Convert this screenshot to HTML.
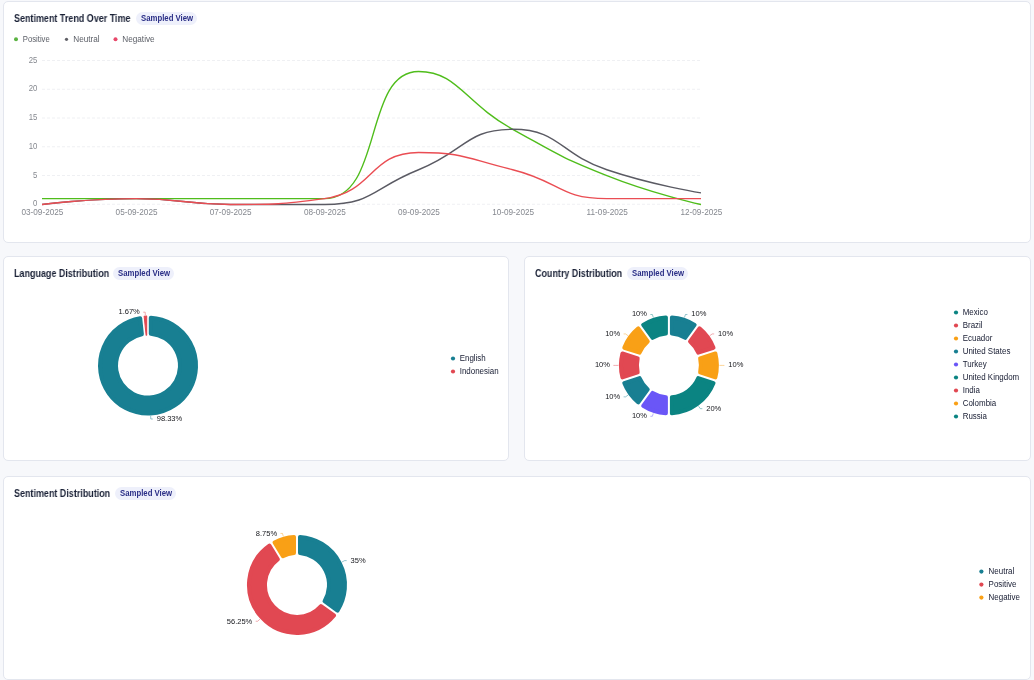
<!DOCTYPE html>
<html><head><meta charset="utf-8"><title>Dashboard</title>
<style>
html,body{margin:0;padding:0}
body{width:1034px;height:680px;overflow:hidden;background:#f7f8fb;position:relative;font-family:"Liberation Sans",sans-serif}
.card{position:absolute;background:#fff;border:1px solid #e3e6ee;border-radius:5px;box-sizing:border-box}
.ttl,.bdg{will-change:transform}
.ttl{position:absolute;font-weight:bold;font-size:10px;line-height:12px;color:#1a2136;white-space:nowrap;transform:scaleX(.897);transform-origin:0 50%}
.bdg{position:absolute;height:13px;border-radius:7px;background:#eef0fb;color:#2a2e86;white-space:nowrap;box-sizing:border-box;overflow:hidden}
.bdg span{display:block;font-weight:bold;font-size:8.7px;line-height:13.6px;transform:scaleX(.895);transform-origin:0 50%;white-space:nowrap}
svg{position:absolute;left:0;top:0;will-change:transform}
text{font-family:"Liberation Sans",sans-serif}
</style></head><body>
<div class="card" style="left:3px;top:1px;width:1028px;height:242px"></div>
<div class="card" style="left:3px;top:256px;width:506px;height:205px"></div>
<div class="card" style="left:524px;top:256px;width:507px;height:205px"></div>
<div class="card" style="left:3px;top:476px;width:1028px;height:204px"></div>
<div class="ttl" style="left:14px;top:12.6px">Sentiment Trend Over Time</div><div class="bdg" style="left:136px;top:12px;width:61px;padding-left:5px"><span>Sampled View</span></div>
<div class="ttl" style="left:14px;top:267.6px">Language Distribution</div><div class="bdg" style="left:113px;top:267px;width:61px;padding-left:5px"><span>Sampled View</span></div>
<div class="ttl" style="left:535px;top:267.6px">Country Distribution</div><div class="bdg" style="left:626.5px;top:267px;width:61px;padding-left:5px"><span>Sampled View</span></div>
<div class="ttl" style="left:14px;top:487.6px">Sentiment Distribution</div><div class="bdg" style="left:115px;top:487px;width:61px;padding-left:5px"><span>Sampled View</span></div>
<svg width="1034" height="680" viewBox="0 0 1034 680">
<circle cx="16" cy="39.3" r="2" fill="#5bb342"/><text transform="translate(22.80 42.00) scale(0.94 1)" text-anchor="start" font-size="8.2" fill="#5d6068">Positive</text>
<circle cx="66.5" cy="39.3" r="1.6" fill="#5f5f66"/><text transform="translate(73.30 42.00) scale(1 1)" text-anchor="start" font-size="8.2" fill="#5d6068">Neutral</text>
<circle cx="115.5" cy="39.3" r="2" fill="#e8486a"/><text transform="translate(122.30 42.00) scale(1 1)" text-anchor="start" font-size="8.2" fill="#5d6068">Negative</text>
<line x1="42" x2="701" y1="204.25" y2="204.25" stroke="#eff0f3" stroke-width="1" stroke-dasharray="3 2"/>
<text transform="translate(37.40 206.25) scale(0.95 1)" text-anchor="end" font-size="8.2" fill="#85888f">0</text>
<line x1="42" x2="701" y1="175.50" y2="175.50" stroke="#eff0f3" stroke-width="1" stroke-dasharray="3 2"/>
<text transform="translate(37.40 177.50) scale(0.95 1)" text-anchor="end" font-size="8.2" fill="#85888f">5</text>
<line x1="42" x2="701" y1="146.75" y2="146.75" stroke="#eff0f3" stroke-width="1" stroke-dasharray="3 2"/>
<text transform="translate(37.40 148.75) scale(0.95 1)" text-anchor="end" font-size="8.2" fill="#85888f">10</text>
<line x1="42" x2="701" y1="118.00" y2="118.00" stroke="#eff0f3" stroke-width="1" stroke-dasharray="3 2"/>
<text transform="translate(37.40 120.00) scale(0.95 1)" text-anchor="end" font-size="8.2" fill="#85888f">15</text>
<line x1="42" x2="701" y1="89.25" y2="89.25" stroke="#eff0f3" stroke-width="1" stroke-dasharray="3 2"/>
<text transform="translate(37.40 91.25) scale(0.95 1)" text-anchor="end" font-size="8.2" fill="#85888f">20</text>
<line x1="42" x2="701" y1="60.50" y2="60.50" stroke="#eff0f3" stroke-width="1" stroke-dasharray="3 2"/>
<text transform="translate(37.40 62.50) scale(0.95 1)" text-anchor="end" font-size="8.2" fill="#85888f">25</text>
<text transform="translate(42.40 215.20) scale(1 1)" text-anchor="middle" font-size="8.2" fill="#85888f">03-09-2025</text>
<text transform="translate(136.54 215.20) scale(1 1)" text-anchor="middle" font-size="8.2" fill="#85888f">05-09-2025</text>
<text transform="translate(230.69 215.20) scale(1 1)" text-anchor="middle" font-size="8.2" fill="#85888f">07-09-2025</text>
<text transform="translate(324.83 215.20) scale(1 1)" text-anchor="middle" font-size="8.2" fill="#85888f">08-09-2025</text>
<text transform="translate(418.97 215.20) scale(1 1)" text-anchor="middle" font-size="8.2" fill="#85888f">09-09-2025</text>
<text transform="translate(513.11 215.20) scale(1 1)" text-anchor="middle" font-size="8.2" fill="#85888f">10-09-2025</text>
<text transform="translate(607.26 215.20) scale(1 1)" text-anchor="middle" font-size="8.2" fill="#85888f">11-09-2025</text>
<text transform="translate(701.40 215.20) scale(1 1)" text-anchor="middle" font-size="8.2" fill="#85888f">12-09-2025</text>
<path d="M42.00 198.67 C42.00 198.67 89.07 198.67 136.14 198.67 C183.21 198.67 183.21 198.67 230.29 198.67 C277.36 198.67 289.31 198.67 324.43 198.67 C383.45 198.67 363.14 71.51 418.57 71.51 C457.28 71.51 464.42 102.63 512.71 129.31 C558.57 154.65 558.30 156.17 606.86 175.55 C652.45 193.74 701.00 204.45 701.00 204.45" fill="none" stroke="#4fbd1b" stroke-width="1.4" stroke-linejoin="round"/>
<path d="M42.00 204.45 C42.00 204.45 89.07 198.67 136.14 198.67 C183.21 198.67 183.17 204.45 230.29 204.45 C277.31 204.45 278.85 204.45 324.43 204.45 C373.00 204.45 372.00 188.36 418.57 169.77 C466.14 150.79 465.64 129.31 512.71 129.31 C559.79 129.31 558.48 153.43 606.86 169.77 C652.62 185.22 701.00 192.89 701.00 192.89" fill="none" stroke="#5a5a63" stroke-width="1.4" stroke-linejoin="round"/>
<path d="M42.00 204.45 C42.00 204.45 89.07 198.67 136.14 198.67 C183.21 198.67 183.21 204.45 230.29 204.45 C277.36 204.45 279.85 204.45 324.43 198.67 C374.00 192.24 369.35 152.43 418.57 152.43 C463.49 152.43 466.31 158.37 512.71 169.77 C560.45 181.49 558.73 198.67 606.86 198.67 C652.87 198.67 701.00 198.67 701.00 198.67" fill="none" stroke="#ea4d53" stroke-width="1.4" stroke-linejoin="round"/>
<path d="M150.80 317.68 A48.00 48.00 0 1 1 140.20 318.24 L141.88 334.19 A32.00 32.00 0 1 0 150.80 333.72 Z" fill="#187f92" stroke="#187f92" stroke-width="4.00" stroke-linejoin="round"/>
<path d="M144.16 316.29 A49.46 49.46 0 0 1 146.66 316.16 L146.66 335.09 A30.54 30.54 0 0 0 146.14 335.12 Z" fill="#e14852" stroke="#e14852" stroke-width="1.08" stroke-linejoin="round"/>
<polyline points="150.65,416.03 150.81,419.03 152.81,419.03" fill="none" stroke="#187f92" stroke-width="1" opacity=".45"/>
<text transform="translate(156.71 421.30) scale(0.93 1)" text-anchor="start" font-size="8.1" fill="#16171c">98.33%</text>
<polyline points="145.35,315.17 145.19,312.17 143.19,312.17" fill="none" stroke="#e14852" stroke-width="1" opacity=".45"/>
<text transform="translate(139.79 314.45) scale(0.93 1)" text-anchor="end" font-size="8.1" fill="#16171c">1.67%</text>
<path d="M671.90 317.49 A48.00 48.00 0 0 1 694.63 324.88 L685.20 337.86 A32.00 32.00 0 0 0 671.90 333.54 Z" fill="#187f92" stroke="#187f92" stroke-width="4.00" stroke-linejoin="round"/>
<path d="M699.49 328.41 A48.00 48.00 0 0 1 713.53 347.74 L698.27 352.70 A32.00 32.00 0 0 0 690.05 341.39 Z" fill="#e14852" stroke="#e14852" stroke-width="4.00" stroke-linejoin="round"/>
<path d="M715.39 353.45 A48.00 48.00 0 0 1 715.39 377.35 L700.13 372.39 A32.00 32.00 0 0 0 700.13 358.41 Z" fill="#f9a016" stroke="#f9a016" stroke-width="4.00" stroke-linejoin="round"/>
<path d="M713.53 383.06 A48.00 48.00 0 0 1 671.90 413.31 L671.90 397.26 A32.00 32.00 0 0 0 698.27 378.10 Z" fill="#0b8482" stroke="#0b8482" stroke-width="4.00" stroke-linejoin="round"/>
<path d="M665.90 413.31 A48.00 48.00 0 0 1 643.17 405.92 L652.60 392.94 A32.00 32.00 0 0 0 665.90 397.26 Z" fill="#6a56f7" stroke="#6a56f7" stroke-width="4.00" stroke-linejoin="round"/>
<path d="M638.31 402.39 A48.00 48.00 0 0 1 624.27 383.06 L639.53 378.10 A32.00 32.00 0 0 0 647.75 389.41 Z" fill="#187f92" stroke="#187f92" stroke-width="4.00" stroke-linejoin="round"/>
<path d="M622.41 377.35 A48.00 48.00 0 0 1 622.41 353.45 L637.67 358.41 A32.00 32.00 0 0 0 637.67 372.39 Z" fill="#e14852" stroke="#e14852" stroke-width="4.00" stroke-linejoin="round"/>
<path d="M624.27 347.74 A48.00 48.00 0 0 1 638.31 328.41 L647.75 341.39 A32.00 32.00 0 0 0 639.53 352.70 Z" fill="#f9a016" stroke="#f9a016" stroke-width="4.00" stroke-linejoin="round"/>
<path d="M643.17 324.88 A48.00 48.00 0 0 1 665.90 317.49 L665.90 333.54 A32.00 32.00 0 0 0 652.60 337.86 Z" fill="#0b8482" stroke="#0b8482" stroke-width="4.00" stroke-linejoin="round"/>
<polyline points="684.51,317.37 685.43,314.52 687.43,314.52" fill="none" stroke="#187f92" stroke-width="1" opacity=".45"/>
<text transform="translate(691.33 316.39) scale(0.93 1)" text-anchor="start" font-size="8.1" fill="#16171c">10%</text>
<polyline points="709.76,335.72 712.18,333.95 714.18,333.95" fill="none" stroke="#e14852" stroke-width="1" opacity=".45"/>
<text transform="translate(718.08 335.83) scale(0.93 1)" text-anchor="start" font-size="8.1" fill="#16171c">10%</text>
<polyline points="719.40,365.40 722.40,365.40 724.40,365.40" fill="none" stroke="#f9a016" stroke-width="1" opacity=".45"/>
<text transform="translate(728.30 367.28) scale(0.93 1)" text-anchor="start" font-size="8.1" fill="#16171c">10%</text>
<polyline points="698.58,406.26 700.35,408.68 702.35,408.68" fill="none" stroke="#0b8482" stroke-width="1" opacity=".45"/>
<text transform="translate(706.25 410.56) scale(0.93 1)" text-anchor="start" font-size="8.1" fill="#16171c">20%</text>
<polyline points="653.29,413.43 652.37,416.28 650.37,416.28" fill="none" stroke="#6a56f7" stroke-width="1" opacity=".45"/>
<text transform="translate(646.97 418.16) scale(0.93 1)" text-anchor="end" font-size="8.1" fill="#16171c">10%</text>
<polyline points="628.04,395.08 625.62,396.85 623.62,396.85" fill="none" stroke="#187f92" stroke-width="1" opacity=".45"/>
<text transform="translate(620.22 398.72) scale(0.93 1)" text-anchor="end" font-size="8.1" fill="#16171c">10%</text>
<polyline points="618.40,365.40 615.40,365.40 613.40,365.40" fill="none" stroke="#e14852" stroke-width="1" opacity=".45"/>
<text transform="translate(610.00 367.28) scale(0.93 1)" text-anchor="end" font-size="8.1" fill="#16171c">10%</text>
<polyline points="628.04,335.72 625.62,333.95 623.62,333.95" fill="none" stroke="#f9a016" stroke-width="1" opacity=".45"/>
<text transform="translate(620.22 335.83) scale(0.93 1)" text-anchor="end" font-size="8.1" fill="#16171c">10%</text>
<polyline points="653.29,317.37 652.37,314.52 650.37,314.52" fill="none" stroke="#0b8482" stroke-width="1" opacity=".45"/>
<text transform="translate(646.97 316.39) scale(0.93 1)" text-anchor="end" font-size="8.1" fill="#16171c">10%</text>
<path d="M300.00 536.99 A48.00 48.00 0 0 1 337.52 610.63 L324.54 601.20 A32.00 32.00 0 0 0 300.00 553.04 Z" fill="#187f92" stroke="#187f92" stroke-width="4.00" stroke-linejoin="round"/>
<path d="M333.99 615.49 A48.00 48.00 0 1 1 269.41 545.62 L277.80 559.30 A32.00 32.00 0 1 0 321.01 606.05 Z" fill="#e14852" stroke="#e14852" stroke-width="4.00" stroke-linejoin="round"/>
<path d="M274.53 542.49 A48.00 48.00 0 0 1 294.00 536.99 L294.00 553.04 A32.00 32.00 0 0 0 282.91 556.17 Z" fill="#f9a016" stroke="#f9a016" stroke-width="4.00" stroke-linejoin="round"/>
<polyline points="342.00,561.97 344.67,560.61 346.67,560.61" fill="none" stroke="#187f92" stroke-width="1" opacity=".45"/>
<text transform="translate(350.57 563.09) scale(0.93 1)" text-anchor="start" font-size="8.1" fill="#16171c">35%</text>
<polyline points="259.92,619.18 257.71,621.22 255.71,621.22" fill="none" stroke="#e14852" stroke-width="1" opacity=".45"/>
<text transform="translate(252.31 623.69) scale(0.93 1)" text-anchor="end" font-size="8.1" fill="#16171c">56.25%</text>
<polyline points="283.29,536.30 282.48,533.41 280.48,533.41" fill="none" stroke="#f9a016" stroke-width="1" opacity=".45"/>
<text transform="translate(277.08 535.88) scale(0.93 1)" text-anchor="end" font-size="8.1" fill="#16171c">8.75%</text>
<circle cx="453" cy="358.5" r="2.1" fill="#187f92"/><text transform="translate(459.70 361.35) scale(0.953 1)" text-anchor="start" font-size="8.35" fill="#161b31">English</text>
<circle cx="453" cy="371.5" r="2.1" fill="#e14852"/><text transform="translate(459.70 374.35) scale(0.953 1)" text-anchor="start" font-size="8.35" fill="#161b31">Indonesian</text>
<circle cx="956" cy="312.5" r="2.1" fill="#0b8482"/><text transform="translate(962.70 315.35) scale(0.953 1)" text-anchor="start" font-size="8.35" fill="#161b31">Mexico</text>
<circle cx="956" cy="325.5" r="2.1" fill="#e14852"/><text transform="translate(962.70 328.35) scale(0.953 1)" text-anchor="start" font-size="8.35" fill="#161b31">Brazil</text>
<circle cx="956" cy="338.5" r="2.1" fill="#f9a016"/><text transform="translate(962.70 341.35) scale(0.953 1)" text-anchor="start" font-size="8.35" fill="#161b31">Ecuador</text>
<circle cx="956" cy="351.5" r="2.1" fill="#187f92"/><text transform="translate(962.70 354.35) scale(0.953 1)" text-anchor="start" font-size="8.35" fill="#161b31">United States</text>
<circle cx="956" cy="364.5" r="2.1" fill="#6a56f7"/><text transform="translate(962.70 367.35) scale(0.953 1)" text-anchor="start" font-size="8.35" fill="#161b31">Turkey</text>
<circle cx="956" cy="377.5" r="2.1" fill="#0b8482"/><text transform="translate(962.70 380.35) scale(0.953 1)" text-anchor="start" font-size="8.35" fill="#161b31">United Kingdom</text>
<circle cx="956" cy="390.5" r="2.1" fill="#e14852"/><text transform="translate(962.70 393.35) scale(0.953 1)" text-anchor="start" font-size="8.35" fill="#161b31">India</text>
<circle cx="956" cy="403.5" r="2.1" fill="#f9a016"/><text transform="translate(962.70 406.35) scale(0.953 1)" text-anchor="start" font-size="8.35" fill="#161b31">Colombia</text>
<circle cx="956" cy="416.5" r="2.1" fill="#0b8482"/><text transform="translate(962.70 419.35) scale(0.953 1)" text-anchor="start" font-size="8.35" fill="#161b31">Russia</text>
<circle cx="981.4" cy="571.6" r="2.1" fill="#187f92"/><text transform="translate(988.60 574.45) scale(0.953 1)" text-anchor="start" font-size="8.35" fill="#161b31">Neutral</text>
<circle cx="981.4" cy="584.6" r="2.1" fill="#e14852"/><text transform="translate(988.60 587.45) scale(0.953 1)" text-anchor="start" font-size="8.35" fill="#161b31">Positive</text>
<circle cx="981.4" cy="597.6" r="2.1" fill="#f9a016"/><text transform="translate(988.60 600.45) scale(0.953 1)" text-anchor="start" font-size="8.35" fill="#161b31">Negative</text>
</svg>
</body></html>
